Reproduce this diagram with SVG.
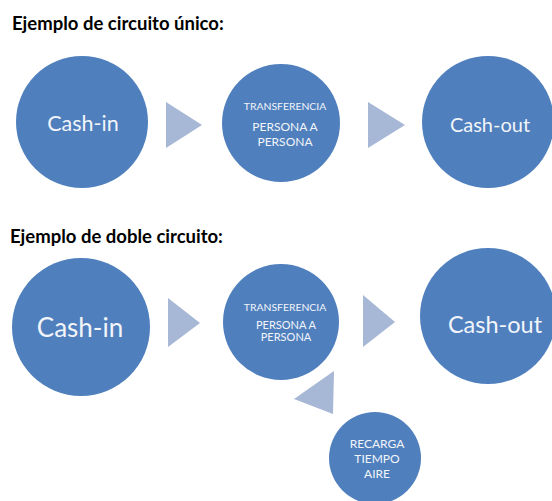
<svg xmlns="http://www.w3.org/2000/svg" width="552" height="501" viewBox="0 0 552 501">
<style>
.title{font-family:Lato,"Open Sans","Liberation Sans",sans-serif;font-weight:bold;font-size:18.5px;fill:#000}
.c{fill:#4f7fbd}
.t{font-family:Lato,"Open Sans","Liberation Sans",sans-serif;fill:#f2f5fa;text-anchor:middle}
.tri{fill:#a7b7d6}
</style>
<rect width="552" height="501" fill="#fff"/>
<text class="title" x="12" y="30">Ejemplo de circuito único:</text>
<text class="title" x="10" y="243">Ejemplo de doble circuito:</text>

<g id="top-cashin"><circle class="c" cx="82" cy="122" r="66"/><text class="t" x="83" y="131" font-size="21.5">Cash-in</text></g>
<g id="top-transfer"><circle class="c" cx="281" cy="123" r="59"/>
<text class="t" x="285" y="110" font-size="10.4">TRANSFERENCIA</text>
<text class="t" x="285" y="131" font-size="12">PERSONA A</text>
<text class="t" x="285" y="146" font-size="12">PERSONA</text></g>
<g id="top-cashout"><circle class="c" cx="488" cy="122" r="66"/><text class="t" x="490" y="132" font-size="20">Cash-out</text></g>

<g id="bot-cashin"><circle class="c" cx="81" cy="327" r="69"/><text class="t" x="80" y="337" font-size="26">Cash-in</text></g>
<g id="bot-transfer"><circle class="c" cx="281" cy="322" r="58"/>
<text class="t" x="285" y="311" font-size="10.4">TRANSFERENCIA</text>
<text class="t" x="286" y="329" font-size="11">PERSONA A</text>
<text class="t" x="286" y="341" font-size="11">PERSONA</text></g>
<g id="bot-cashout"><circle class="c" cx="488" cy="316" r="68"/><text class="t" x="495" y="333" font-size="23.5">Cash-out</text></g>
<g id="bot-recarga"><circle class="c" cx="375" cy="458" r="46"/>
<text class="t" x="377" y="448" font-size="12">RECARGA</text>
<text class="t" x="377" y="463" font-size="12">TIEMPO</text>
<text class="t" x="377" y="478" font-size="12">AIRE</text></g>

<g id="connectors">
<polygon class="tri" points="166,102 166,148 202,125"/>
<polygon class="tri" points="368,102 368,148 405,125"/>
<polygon class="tri" points="168,298 168,347 200,323"/>
<polygon class="tri" points="363,295 363,347 395,322"/>
<polygon class="tri" points="334,371 333,414 294,399"/>
</g>
</svg>
